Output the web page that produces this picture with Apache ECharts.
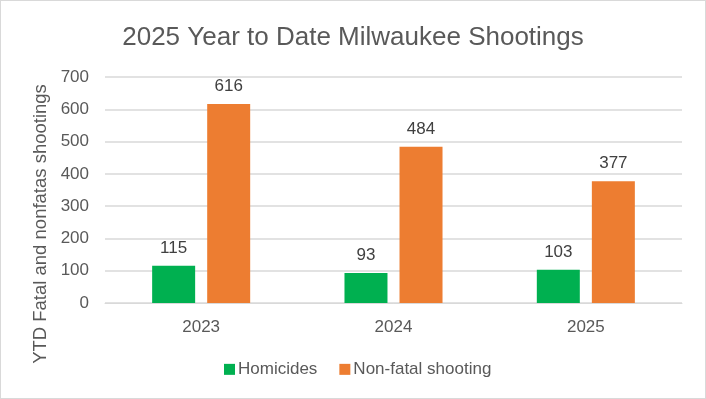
<!DOCTYPE html>
<html>
  <head>
    <title>2025 Year to Date Milwaukee Shootings</title>
    <style type="text/css">
      html,
      body {
        width: 100%;
        height: 100%;
        margin: 0px;
        background: #fff;
      }

      #chart {
        position: absolute;
        left: 0px;
        top: 0px;
        width: 704px;
        height: 397px;
        border: 1px solid #d9d9d9;
      }
    </style>
    <script type="text/javascript" src="https://cdn.jsdelivr.net/npm/echarts@6/dist/echarts.min.js"></script>
  </head>

  <body>
    <div id="chart"></div>
    <script>
      const years = ["2023", "2024", "2025"];
      const homicides = [115, 93, 103];
      const nonFatal = [616, 484, 377];
      const yTicks = [0, 100, 200, 300, 400, 500, 600, 700];

      const font = "Liberation Sans";
      const chart = echarts.init(document.getElementById("chart"), null, { renderer: "canvas" });

      const labelStyle = {
        show: true,
        position: "top",
        distance: 3,
        color: "#404040",
        fontSize: 17,
        fontFamily: font,
      };

      const option = {
        animation: false,
        title: {
          text: "2025 Year to Date Milwaukee Shootings",
          left: "center",
          top: 9,
          textStyle: {
            color: "#595959",
            fontSize: 26,
            fontWeight: "normal",
            fontFamily: font,
          },
        },
        legend: {
          bottom: 9,
          left: 218,
          icon: "rect",
          itemWidth: 11,
          itemHeight: 11,
          itemGap: 22,
          textStyle: { color: "#595959", fontSize: 17, fontFamily: font, padding: [0, 0, 0, -2] },
          data: ["Homicides", "Non-fatal shooting"],
        },
        grid: {
          left: 104,
          right: 23,
          top: 76,
          bottom: 95,
        },
        xAxis: {
          type: "category",
          data: years,
          axisLine: { lineStyle: { color: "#d9d9d9", width: 1 } },
          axisTick: { show: false },
          axisLabel: { color: "#595959", fontSize: 17, fontFamily: font, margin: 10 },
        },
        yAxis: {
          type: "value",
          min: yTicks[0],
          max: yTicks[yTicks.length - 1],
          interval: 100,
          name: "YTD Fatal and nonfatas shootings",
          nameLocation: "middle",
          nameMoveOverlap: false,
          nameGap: 48,
          nameTextStyle: {
            color: "#595959",
            fontSize: 18.5,
            fontFamily: font,
            padding: [0, 68, 0, 0],
          },
          axisLine: { show: false },
          axisTick: { show: false },
          splitLine: { lineStyle: { color: "#d9d9d9", width: 1.5 } },
          axisLabel: { color: "#595959", fontSize: 17, fontFamily: font, margin: 16 },
        },
        series: [
          {
            name: "Homicides",
            type: "bar",
            data: homicides,
            barWidth: 43,
            barGap: "28%",
            itemStyle: { color: "#00b050" },
            label: labelStyle,
          },
          {
            name: "Non-fatal shooting",
            type: "bar",
            data: nonFatal,
            barWidth: 43,
            itemStyle: { color: "#ed7d31" },
            label: labelStyle,
          },
        ],
      };

      chart.setOption(option);
    </script>
  </body>
</html>
